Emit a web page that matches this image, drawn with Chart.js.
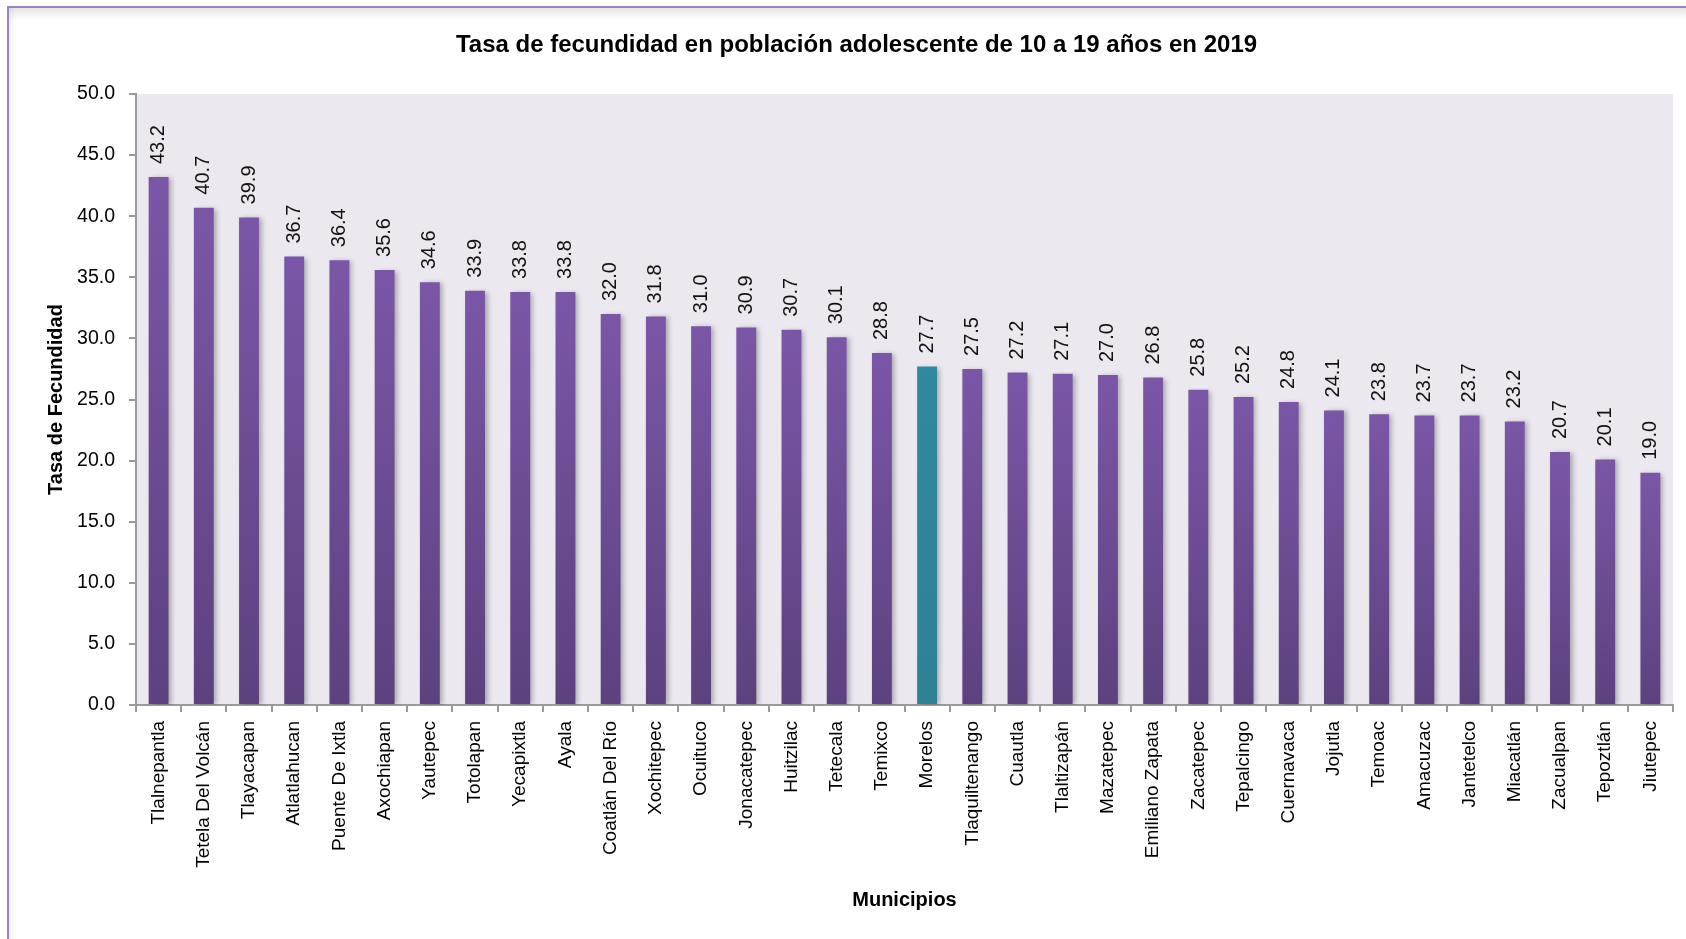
<!DOCTYPE html>
<html>
<head>
<meta charset="utf-8">
<script src="https://cdn.jsdelivr.net/npm/chart.js@4.4.1/dist/chart.umd.min.js"></script>
<style>
html,body{margin:0;padding:0;background:#fff;overflow:hidden;}
#wrap{width:1686px;height:939px;}
</style>
</head>
<body>
<div id="wrap"><canvas id="c" width="1686" height="939"></canvas></div>
<script>
const municipios = ["Tlalnepantla","Tetela Del Volcán","Tlayacapan","Atlatlahucan","Puente De Ixtla","Axochiapan","Yautepec","Totolapan","Yecapixtla","Ayala","Coatlán Del Río","Xochitepec","Ocuituco","Jonacatepec","Huitzilac","Tetecala","Temixco","Morelos","Tlaquiltenango","Cuautla","Tlaltizapán","Mazatepec","Emiliano Zapata","Zacatepec","Tepalcingo","Cuernavaca","Jojutla","Temoac","Amacuzac","Jantetelco","Miacatlán","Zacualpan","Tepoztlán","Jiutepec"];
const tasa = [43.2,40.7,39.9,36.7,36.4,35.6,34.6,33.9,33.8,33.8,32.0,31.8,31.0,30.9,30.7,30.1,28.8,27.7,27.5,27.2,27.1,27.0,26.8,25.8,25.2,24.8,24.1,23.8,23.7,23.7,23.2,20.7,20.1,19.0];
const destacado = "Morelos";
const titulo = "Tasa de fecundidad en población adolescente de 10 a 19 años en 2019";
const tituloY = "Tasa de Fecundidad";
const tituloX = "Municipios";

const FONT = "'Liberation Sans Narrow','Arial Narrow','Liberation Sans',Arial,sans-serif";

const framePlugin = {
  id: 'frame',
  beforeDraw(chart) {
    const ctx = chart.ctx, W = chart.width, H = chart.height;
    ctx.save();
    ctx.fillStyle = '#ffffff';
    ctx.fillRect(0, 0, W, H);
    const g = ctx.createLinearGradient(0, 8, 0, 20);
    g.addColorStop(0, 'rgba(0,0,0,0.10)');
    g.addColorStop(1, 'rgba(0,0,0,0)');
    ctx.fillStyle = g;
    ctx.fillRect(9, 8, W, 12);
    const g2 = ctx.createLinearGradient(9, 0, 16, 0);
    g2.addColorStop(0, 'rgba(0,0,0,0.06)');
    g2.addColorStop(1, 'rgba(0,0,0,0)');
    ctx.fillStyle = g2;
    ctx.fillRect(9, 8, 7, H);
    ctx.strokeStyle = '#9a83c4';
    ctx.lineWidth = 2;
    ctx.beginPath();
    ctx.moveTo(8, H);
    ctx.lineTo(8, 7);
    ctx.lineTo(W, 7);
    ctx.stroke();
    const a = chart.chartArea;
    ctx.fillStyle = '#ebe8f0';
    ctx.fillRect(a.left, a.top, a.right - a.left, a.bottom - a.top);
    ctx.restore();
  }
};

const shadowPlugin = {
  id: 'barShadow',
  beforeDatasetsDraw(chart) {
    const ctx = chart.ctx;
    ctx.save();
    ctx.shadowColor = 'rgba(0,0,0,0.28)';
    ctx.shadowBlur = 5;
    ctx.shadowOffsetX = 3;
    ctx.shadowOffsetY = 1;
  },
  afterDatasetsDraw(chart) {
    chart.ctx.restore();
  }
};

const labelPlugin = {
  id: 'valueLabels',
  afterDatasetsDraw(chart) {
    const ctx = chart.ctx;
    const meta = chart.getDatasetMeta(0);
    ctx.save();
    ctx.fillStyle = '#111';
    ctx.font = "20px " + FONT;
    ctx.textAlign = 'left';
    ctx.textBaseline = 'middle';
    meta.data.forEach((bar, i) => {
      ctx.save();
      ctx.translate(bar.x, bar.y - 13);
      ctx.rotate(-Math.PI / 2);
      ctx.fillText(tasa[i].toFixed(1), 0, 0);
      ctx.restore();
    });
    ctx.restore();
  }
};

function barColor(context) {
  const chart = context.chart;
  const i = context.dataIndex;
  const teal = municipios[i] === destacado;
  const area = chart.chartArea;
  if (!area || !chart.scales.y) return teal ? '#2e869b' : '#7452a0';
  const yTop = chart.scales.y.getPixelForValue(tasa[i]);
  const yBot = chart.scales.y.getPixelForValue(0);
  const g = chart.ctx.createLinearGradient(0, yTop, 0, yBot);
  if (teal) {
    g.addColorStop(0, '#30899e');
    g.addColorStop(1, '#2c8195');
  } else {
    g.addColorStop(0, '#7b56a7');
    g.addColorStop(1, '#5d417f');
  }
  return g;
}

new Chart(document.getElementById('c'), {
  type: 'bar',
  data: {
    labels: municipios,
    datasets: [{
      data: tasa,
      backgroundColor: barColor,
      borderWidth: 0,
      categoryPercentage: 1.0,
      barPercentage: 0.44
    }]
  },
  options: {
    responsive: false,
    devicePixelRatio: 1,
    animation: false,
    events: [],
    layout: { padding: { left: 40, right: 13, top: 0, bottom: 0 } },
    plugins: {
      legend: { display: false },
      tooltip: { enabled: false },
      title: {
        display: true,
        text: titulo,
        color: '#000',
        font: { family: FONT, size: 24, weight: 'bold', lineHeight: 1.2 },
        padding: { top: 31, bottom: 34.2 }
      }
    },
    scales: {
      x: {
        afterFit(scale) { scale.height = 234; },
        grid: { display: true, drawOnChartArea: false, drawTicks: true, tickLength: 7, color: '#9a9a9a', lineWidth: 2, offset: true },
        border: { display: true, color: '#9a9a9a', width: 2 },
        ticks: {
          autoSkip: false, maxRotation: 90, minRotation: 90, padding: 9,
          color: '#000',
          font: { family: FONT, size: 19 }
        },
        title: {
          display: true, text: tituloX, color: '#000',
          font: { family: FONT, size: 20, weight: 'bold', lineHeight: 1.2 },
          padding: { top: 0, bottom: 27 }
        }
      },
      y: {
        min: 0, max: 50,
        afterFit(scale) { scale.width = 96; },
        grid: { display: true, drawOnChartArea: false, drawTicks: true, tickLength: 7, color: '#9a9a9a', lineWidth: 2 },
        border: { display: true, color: '#9a9a9a', width: 2 },
        ticks: {
          stepSize: 5, padding: 14, color: '#000',
          font: { family: FONT, size: 19.5 },
          callback: v => Number(v).toFixed(1)
        },
        title: {
          display: true, text: tituloY, color: '#000',
          font: { family: FONT, size: 20, weight: 'bold', lineHeight: 1.2 },
          padding: { top: 4, bottom: 0 }
        }
      }
    }
  },
  plugins: [framePlugin, shadowPlugin, labelPlugin]
});
</script>
</body>
</html>
